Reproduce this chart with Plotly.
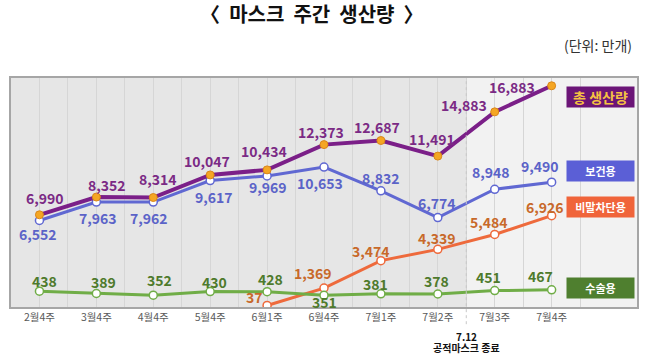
import plotly.graph_objects as go

categories = ["2월4주", "3월4주", "4월4주", "5월4주", "6월1주", "6월4주", "7월1주", "7월2주", "7월3주", "7월4주"]
total = [6990, 8352, 8314, 10047, 10434, 12373, 12687, 11491, 14883, 16883]
health = [6552, 7963, 7962, 9617, 9969, 10653, 8832, 6774, 8948, 9490]
droplet = [None, None, None, None, 37, 1369, 3474, 4339, 5484, 6926]
surgical = [438, 389, 352, 430, 428, 351, 381, 378, 451, 467]

series_names = ["총 생산량", "보건용", "비말차단용", "수술용"]

FONT = "Noto Sans CJK KR"
x = list(range(len(categories)))

# label offsets (px) for each series: (dx, dy) with dy positive = up
off_total = [(6, 17), (11, 12), (5, 19), (-3, 14), (-3, 19), (-3, 13), (-4, 14), (-6, 17), (-31, 7), (-40, -1)]
off_health = [(-1, -13), (2, -16), (-4, -16), (4, -16), (1, -11), (-4, -16), (0, 13), (-1, 15), (-4, 17), (-12, 16)]
off_droplet = [None, None, None, None, (-13, 8), (-11, 15), (-10, 10), (-1, 11), (-6, 12), (-7, 9)]
off_surg = [(5, 10), (7, 11), (6, 15), (4, 10), (3, 13), (0, -7), (-5, 10), (-1, 13), (-6, 14), (-11, 14)]

fig = go.Figure()

fig.add_trace(go.Scatter(x=x, y=surgical, yaxis="y2", mode="lines+markers",
                         line=dict(color="#70AD47", width=3),
                         marker=dict(size=8, color="white", line=dict(color="#70AD47", width=1.5)),
                         showlegend=False, name=series_names[3]))
fig.add_trace(go.Scatter(x=x, y=droplet, mode="lines+markers",
                         line=dict(color="#EE6A3C", width=3),
                         marker=dict(size=8, color="white", line=dict(color="#EE6A3C", width=1.5)),
                         showlegend=False, name=series_names[2]))
fig.add_trace(go.Scatter(x=x, y=health, mode="lines+markers",
                         line=dict(color="#6068D2", width=3),
                         marker=dict(size=8, color="white", line=dict(color="#6068D2", width=1.5)),
                         showlegend=False, name=series_names[1]))
fig.add_trace(go.Scatter(x=x, y=total, mode="lines+markers",
                         line=dict(color="#7B1F88", width=4),
                         marker=dict(size=8, color="#F5A623", line=dict(color="#D9861A", width=1)),
                         showlegend=False, name=series_names[0]))

annotations = []

def add_labels(vals, offs, color, yref="y"):
    for i, v in enumerate(vals):
        if v is None:
            continue
        dx, dy = offs[i]
        annotations.append(dict(x=x[i], y=v, xref="x", yref=yref, text=f"{v:,}",
                                showarrow=False, xshift=dx, yshift=dy,
                                font=dict(family=FONT, size=14, color=color, weight="bold")))

add_labels(total, off_total, "#7B2A85")
add_labels(health, off_health, "#5B63C8")
add_labels(droplet, off_droplet, "#C8692A")
add_labels(surgical, off_surg, "#4E7A2C", yref="y2")

# legend boxes
legend_specs = [
    (series_names[0], 0.917, "#6B1577", "#F5C242", 14),
    (series_names[1], 0.592, "#5B5FD6", "white", 11),
    (series_names[2], 0.437, "#F0643A", "white", 11),
    (series_names[3], 0.085, "#4F7F2F", "white", 11),
]
for name, py, bg, fc, fs in legend_specs:
    annotations.append(dict(x=0.942, y=py, xref="paper", yref="paper", text=name,
                            showarrow=False, bgcolor=bg, width=65, height=18,
                            xanchor="center", yanchor="middle",
                            font=dict(family=FONT, size=fs, color=fc, weight="bold")))

annotations.append(dict(x=0.995, y=1.144, xref="paper", yref="paper", text="(단위: 만개)",
                        showarrow=False, xanchor="right", yanchor="middle",
                        font=dict(family=FONT, size=14, color="#333333")))
annotations.append(dict(x=7.5, y=-0.127, xref="x", yref="paper", text="7.12",
                        showarrow=False, xanchor="center", yanchor="middle",
                        font=dict(family=FONT, size=10, color="#111111", weight="bold")))
annotations.append(dict(x=7.5, y=-0.176, xref="x", yref="paper", text="공적마스크 종료",
                        showarrow=False, xanchor="center", yanchor="middle",
                        font=dict(family=FONT, size=10, color="#111111", weight="bold")))

shapes = [
    dict(type="rect", xref="x", yref="paper", x0=-0.5, x1=7.5, y0=0, y1=1,
         fillcolor="#E6E6E6", line=dict(width=0), layer="below"),
    dict(type="rect", xref="x", yref="paper", x0=7.5, x1=10.5, y0=0, y1=1,
         fillcolor="#F2F2F2", line=dict(width=0), layer="below"),
    dict(type="line", xref="x", yref="paper", x0=7.5, x1=7.5, y0=-0.075, y1=1,
         line=dict(color="#C8C8C8", width=1, dash="dot")),
]

fig.update_layout(
    width=647, height=357,
    margin=dict(l=11, r=8, t=78, b=50),
    paper_bgcolor="white", plot_bgcolor="#F2F2F2",
    title=dict(text="〈  마스크  주간  생산량  〉", x=0.482, xanchor="center", y=0.958, yanchor="middle",
               xref="container", yref="container",
               font=dict(family=FONT, size=20, color="#111111", weight="bold")),
    xaxis=dict(range=[-0.5, 10.5], tickvals=x, ticktext=categories, showgrid=True,
               gridcolor="#D6D6D6", gridwidth=1, zeroline=False,
               minor=dict(dtick=1, tick0=0.5, showgrid=True, gridcolor="#D6D6D6", gridwidth=1),
               showline=True, linecolor="#A6A6A6", linewidth=1.5, mirror=True,
               ticks="", tickfont=dict(family=FONT, size=10.5, color="#595959")),
    yaxis=dict(range=[-80, 17480], showgrid=False, zeroline=False, showticklabels=False,
               showline=True, linecolor="#A6A6A6", linewidth=1.5, mirror=True),
    yaxis2=dict(range=[100, 5000], overlaying="y", showgrid=False, zeroline=False,
                showticklabels=False, visible=False),
    annotations=annotations,
    shapes=shapes,
)

fig.write_html("out.html", config={"displayModeBar": False},
               post_script="document.body.style.margin='0';document.body.style.overflow='hidden';")
